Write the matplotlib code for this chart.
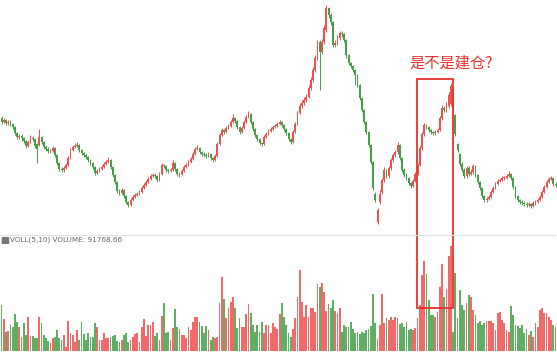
import matplotlib
matplotlib.use("Agg")
import matplotlib.pyplot as plt
from matplotlib.patches import Rectangle, FancyBboxPatch
from matplotlib.lines import Line2D
import numpy as np

# daily candles (price units are chart units, no axis shown)
open_ = [112, 108, 110, 107, 108, 106, 103, 97, 93, 94,
         92, 89, 84, 88, 92, 91, 86, 85, 93, 88,
         83, 81, 79, 79, 82, 75, 67, 61, 60, 62,
         65, 72, 80, 83, 84, 85, 80, 77, 75, 73,
         70, 67, 63, 57, 59, 61, 63, 66, 68, 70,
         63, 55, 48, 39, 37, 40, 34, 28, 25, 30,
         33, 35, 36, 38, 42, 45, 48, 51, 54, 55,
         54, 50, 56, 65, 64, 60, 59, 60, 67, 61,
         56, 56, 59, 63, 65, 68, 71, 76, 81, 82,
         78, 76, 75, 74, 76, 72, 70, 74, 86, 95,
         100, 98, 102, 104, 108, 112, 109, 103, 98, 102,
         108, 113, 116, 108, 101, 95, 91, 87, 86, 93,
         96, 99, 101, 103, 104, 106, 108, 105, 101, 97,
         91, 88, 98, 106, 117, 124, 127, 130, 133, 142,
         150, 160, 172, 188, 178, 188, 200, 222, 215, 208,
         185, 187, 192, 197, 196, 190, 175, 167, 164, 160,
         155, 145, 132, 120, 108, 98, 85, 68, 36, 8,
         28, 38, 50, 60, 54, 62, 70, 75, 78, 85,
         72, 60, 55, 52, 47, 44, 49, 56, 65, 82,
         96, 105, 103, 100, 98, 97, 98, 100, 112, 122,
         120, 124, 126, 140, 115, 86, 76, 66, 60, 54,
         62, 56, 58, 64, 55, 48, 42, 34, 30, 31,
         33, 38, 42, 46, 49, 50, 52, 52, 54, 56,
         52, 43, 34, 30, 28, 27, 26, 25, 26, 24,
         27, 28, 30, 33, 38, 43, 48, 51, 52, 46]
close = [108, 110, 107, 108, 106, 103, 97, 93, 94, 92,
         89, 84, 88, 92, 91, 84, 81, 93, 88, 83,
         81, 79, 79, 82, 75, 67, 61, 60, 62, 65,
         72, 80, 83, 84, 85, 80, 77, 75, 73, 70,
         67, 63, 57, 59, 61, 63, 66, 68, 70, 63,
         55, 48, 39, 37, 40, 34, 28, 25, 30, 33,
         35, 36, 38, 42, 45, 48, 51, 54, 55, 54,
         50, 56, 65, 64, 60, 59, 60, 67, 61, 56,
         56, 59, 63, 65, 68, 71, 76, 81, 82, 78,
         76, 75, 74, 76, 72, 70, 74, 86, 95, 100,
         98, 102, 104, 108, 112, 109, 103, 98, 102, 108,
         113, 116, 108, 101, 95, 91, 87, 86, 93, 96,
         99, 101, 103, 104, 106, 108, 105, 101, 97, 91,
         88, 98, 106, 117, 124, 127, 130, 133, 142, 150,
         160, 172, 188, 178, 188, 202, 222, 215, 208, 185,
         187, 192, 197, 196, 190, 175, 167, 164, 160, 155,
         145, 132, 120, 108, 98, 85, 68, 42, 30, 20,
         36, 50, 60, 54, 62, 70, 75, 78, 85, 72,
         60, 55, 52, 47, 44, 49, 56, 65, 82, 96,
         105, 103, 100, 98, 97, 98, 100, 112, 122, 120,
         124, 135, 144, 122, 96, 80, 66, 60, 54, 62,
         56, 58, 64, 55, 48, 42, 34, 30, 31, 33,
         38, 42, 46, 49, 50, 52, 52, 54, 56, 52,
         43, 34, 30, 28, 27, 26, 25, 26, 24, 27,
         28, 30, 33, 38, 43, 48, 51, 52, 46, 45]
high = [114, 112, 111, 110, 110, 107, 104, 98, 96, 96,
        93, 90, 90, 95, 94, 92, 87, 101, 94, 89,
        85, 83, 81, 84, 83, 76, 68, 63, 64, 67,
        74, 82, 85, 87, 88, 86, 81, 78, 76, 74,
        71, 68, 64, 61, 63, 65, 68, 70, 73, 71,
        64, 56, 49, 41, 42, 41, 35, 29, 32, 35,
        37, 38, 40, 44, 47, 50, 53, 56, 57, 57,
        55, 58, 67, 66, 65, 61, 62, 70, 68, 62,
        58, 61, 65, 67, 70, 73, 78, 83, 85, 83,
        79, 78, 77, 78, 77, 73, 76, 88, 97, 102,
        101, 104, 106, 110, 116, 113, 110, 104, 104, 110,
        115, 119, 117, 109, 102, 96, 92, 88, 95, 98,
        101, 103, 105, 106, 108, 110, 109, 106, 102, 98,
        92, 100, 108, 119, 127, 130, 133, 136, 145, 153,
        163, 175, 190, 190, 191, 205, 225, 223, 217, 209,
        190, 195, 199, 199, 197, 191, 176, 168, 165, 161,
        156, 146, 133, 121, 109, 99, 86, 69, 38, 22,
        40, 52, 63, 61, 64, 72, 77, 80, 88, 86,
        73, 62, 57, 53, 48, 51, 58, 67, 84, 98,
        107, 106, 104, 101, 99, 100, 102, 114, 125, 124,
        128, 138, 147, 141, 116, 87, 77, 68, 62, 64,
        64, 61, 66, 65, 56, 49, 43, 35, 33, 35,
        40, 44, 48, 51, 52, 54, 54, 56, 59, 57,
        53, 44, 35, 31, 30, 29, 28, 28, 27, 29,
        30, 32, 35, 40, 45, 50, 53, 54, 53, 48]
low = [106, 107, 105, 105, 104, 101, 95, 91, 91, 89,
       87, 82, 83, 87, 89, 82, 67, 84, 86, 81,
       79, 77, 77, 78, 73, 65, 59, 58, 58, 61,
       64, 71, 79, 82, 83, 78, 75, 73, 71, 68,
       65, 61, 55, 56, 58, 60, 62, 65, 67, 61,
       53, 46, 37, 35, 36, 32, 26, 23, 24, 29,
       32, 34, 35, 37, 41, 44, 47, 50, 53, 52,
       48, 49, 55, 62, 58, 57, 58, 59, 59, 54,
       53, 55, 58, 62, 64, 67, 70, 75, 80, 76,
       74, 73, 72, 73, 70, 68, 69, 73, 85, 94,
       96, 97, 101, 103, 107, 107, 101, 96, 97, 101,
       107, 112, 106, 99, 93, 89, 85, 84, 85, 92,
       95, 98, 100, 102, 103, 105, 103, 99, 95, 89,
       86, 87, 97, 105, 116, 122, 125, 128, 132, 140,
       148, 158, 170, 140, 176, 186, 198, 212, 205, 183,
       183, 185, 190, 193, 188, 172, 165, 162, 158, 145,
       143, 130, 118, 106, 96, 83, 66, 40, 28, 6,
       26, 36, 48, 52, 52, 60, 68, 73, 76, 70,
       58, 53, 50, 45, 42, 43, 48, 55, 64, 80,
       94, 101, 98, 96, 95, 95, 97, 99, 110, 118,
       118, 122, 124, 118, 94, 78, 64, 58, 52, 52,
       54, 55, 56, 53, 46, 40, 32, 28, 28, 30,
       32, 37, 41, 45, 48, 49, 50, 51, 53, 50,
       41, 32, 28, 26, 25, 24, 23, 23, 22, 23,
       25, 27, 29, 32, 37, 42, 47, 50, 44, 43]
volume = [46, 32, 19, 20, 26, 24, 37, 29, 24, 14,
          28, 16, 34, 15, 15, 13, 13, 34, 28, 16,
          13, 10, 8, 13, 14, 21, 13, 11, 16, 4,
          30, 18, 16, 9, 21, 11, 29, 17, 11, 18,
          14, 14, 28, 24, 11, 11, 18, 13, 13, 14,
          15, 16, 10, 9, 11, 16, 18, 9, 11, 14,
          17, 18, 9, 24, 32, 15, 26, 26, 29, 15,
          18, 11, 35, 48, 18, 19, 11, 23, 42, 24,
          22, 16, 16, 13, 24, 21, 29, 34, 34, 29,
          25, 18, 25, 21, 11, 14, 13, 14, 48, 74,
          52, 33, 43, 49, 54, 43, 23, 33, 24, 24,
          37, 47, 38, 26, 19, 26, 19, 29, 18, 26,
          26, 18, 28, 24, 22, 37, 48, 34, 26, 18,
          14, 22, 33, 54, 81, 49, 34, 46, 34, 43,
          43, 39, 67, 64, 68, 59, 40, 47, 43, 51,
          40, 38, 43, 19, 26, 24, 24, 29, 22, 18,
          19, 17, 19, 18, 21, 22, 25, 57, 28, 12,
          26, 57, 28, 33, 31, 34, 31, 34, 33, 27,
          28, 24, 29, 21, 22, 21, 23, 33, 46, 76,
          90, 77, 51, 36, 36, 34, 39, 64, 87, 54,
          62, 95, 105, 19, 78, 33, 61, 46, 41, 48,
          56, 54, 41, 36, 28, 30, 26, 28, 30, 30,
          30, 28, 21, 38, 39, 31, 28, 21, 19, 45,
          36, 26, 25, 23, 26, 18, 22, 16, 20, 14,
          28, 24, 41, 43, 38, 38, 34, 31, 26, 24]

VOL_LABEL = "VOLL(5,10) VOLUME: 91768.66"
NOTE = "是不是建仓?"

RED = "#f04f4f"
GREEN = "#43a047"
NOTE_RED = "#ea2f2f"

N = len(close)
assert len(open_) == len(high) == len(low) == len(volume) == N

W, H = 557, 353
fig = plt.figure(figsize=(W / 100, H / 100), dpi=100)
pitch = (W - 3) / (N - 1)
xl = (-1.5 / pitch, (W - 1.5) / pitch)

ax = fig.add_axes([0, 1 - 233 / H, 1, 233 / H])
axv = fig.add_axes([0, 2 / H, 1, 115 / H])
for a in (ax, axv):
    a.set_axis_off()
    a.set_xlim(*xl)

x = np.arange(N)
o = np.array(open_, float)
c = np.array(close, float)
cols = np.where(c >= o, RED, GREEN)

ax.vlines(x, low, high, colors=cols, lw=0.7)
ax.bar(x, np.maximum(np.abs(c - o), 1.2), bottom=np.minimum(o, c),
       width=0.8, color=cols, linewidth=0)
ax.set_ylim(-3, 230)

axv.bar(x, volume, width=0.8, color=cols, alpha=0.85, linewidth=0)
axv.set_ylim(0, 115)

# panel separator + indicator label
fig.add_artist(Line2D([0, 555 / W], [1 - 235 / H] * 2, color="#e2e2e2", lw=0.8))
fig.add_artist(FancyBboxPatch((3 / W, 1 - 243 / H), 5 / W, 5 / H,
                              boxstyle="round,pad=0.001", color="#777777"))
fig.text(10 / W, 1 - 240 / H, VOL_LABEL, fontsize=5.2, color="#666666",
         va="center", ha="left")

# annotation box over the suspected accumulation
fig.add_artist(Rectangle((417 / W, 1 - 308 / H), 36 / W, 229 / H, fill=False,
                         edgecolor=NOTE_RED, lw=1.3))
fig.text(451 / W, 1 - 63 / H, NOTE, fontsize=11, color=NOTE_RED,
         ha="center", va="center", family=["Noto Sans CJK SC", "DejaVu Sans"])

fig.savefig("out.png", dpi=100)
